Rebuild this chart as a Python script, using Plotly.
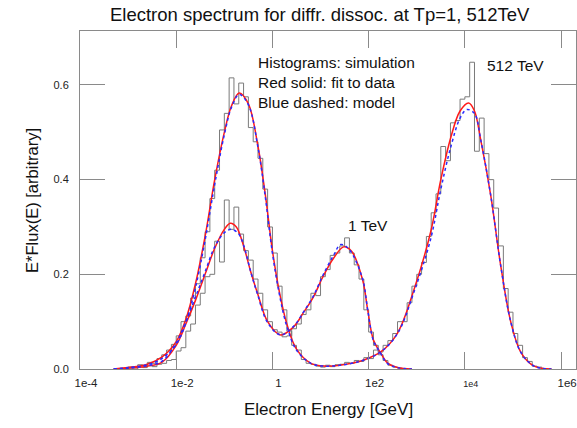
import numpy as np
import plotly.graph_objects as go

# ---- histogram binning (log10 of energy in GeV) ----
HIST_START = -3.1
HIST_STEP = 0.1

# simulated E*Flux(E), 1 TeV primary
hist_1tev = [0.0, 0.002, 0.0, 0.004, 0.003, 0.007, 0.005, 0.01, 0.012, 0.018,
             0.02, 0.038, 0.045, 0.08, 0.095, 0.135, 0.16, 0.195, 0.2, 0.27,
             0.226, 0.357, 0.295, 0.342, 0.285, 0.25, 0.23, 0.19, 0.16, 0.125,
             0.1, 0.083, 0.078, 0.068, 0.07, 0.085, 0.095, 0.115, 0.125, 0.16,
             0.155, 0.195, 0.21, 0.24, 0.245, 0.26, 0.277, 0.245, 0.22, 0.19,
             0.125, 0.078, 0.05, 0.03, 0.018, 0.008, 0.004, 0.002, 0.0]

# simulated E*Flux(E), 512 TeV primary
hist_512tev = [0.0, 0.004, 0.003, 0.009, 0.007, 0.014, 0.012, 0.022, 0.03, 0.04,
               0.052, 0.07, 0.1, 0.112, 0.15, 0.18, 0.235, 0.29, 0.36, 0.42,
               0.505, 0.54, 0.615, 0.56, 0.604, 0.575, 0.51, 0.48, 0.445, 0.38,
               0.3, 0.245, 0.175, 0.125, 0.08, 0.05, 0.04, 0.02, 0.012, 0.01,
               0.006, 0.004, 0.008, 0.005, 0.009, 0.01, 0.014, 0.012, 0.018, 0.016,
               0.024, 0.022, 0.04, 0.036, 0.05, 0.06, 0.075, 0.1, 0.1, 0.14,
               0.175, 0.2, 0.225, 0.28, 0.33, 0.37, 0.47, 0.44, 0.52, 0.525,
               0.57, 0.575, 0.648, 0.46, 0.53, 0.455, 0.4, 0.34, 0.26, 0.17,
               0.12, 0.075, 0.05, 0.024, 0.016, 0.006, 0.004, 0.001, 0.0]

# ---- fitted curves (red) ----
fit_1tev_loge = [-3.3, -3.0, -2.6, -2.3, -2.0, -1.8, -1.6, -1.4, -1.2, -1.0,
                 -0.875, -0.75, -0.6, -0.45, -0.31, -0.1, 0.17, 0.44, 0.65, 0.85,
                 1.05, 1.27, 1.48, 1.65, 1.875, 1.98, 2.1, 2.25, 2.39, 2.6, 2.9]
fit_1tev_val = [0.0, 0.002, 0.006, 0.014, 0.05, 0.095, 0.145, 0.2, 0.255, 0.295,
                0.308, 0.3, 0.26, 0.205, 0.16, 0.1, 0.072, 0.089, 0.12, 0.152,
                0.195, 0.234, 0.258, 0.248, 0.188, 0.125, 0.061, 0.034, 0.013, 0.003, 0.0]

fit_512tev_loge = [-3.3, -3.0, -2.6, -2.3, -2.0, -1.8, -1.6, -1.4, -1.2, -1.0,
                   -0.85, -0.69, -0.5, -0.3, -0.15, 0.0, 0.15, 0.3, 0.5, 0.8,
                   1.1, 1.4, 1.7, 1.9, 2.25, 2.6, 2.94, 3.29, 3.5, 3.71,
                   3.9, 4.08, 4.2, 4.33, 4.54, 4.75, 4.96, 5.17, 5.44, 5.8]
fit_512tev_val = [0.0, 0.003, 0.01, 0.025, 0.058, 0.105, 0.18, 0.28, 0.4, 0.5,
                  0.556, 0.583, 0.56, 0.47, 0.37, 0.25, 0.16, 0.095, 0.042, 0.012,
                  0.006, 0.008, 0.013, 0.019, 0.036, 0.076, 0.167, 0.29, 0.4, 0.49,
                  0.545, 0.562, 0.545, 0.484, 0.365, 0.215, 0.097, 0.034, 0.006, 0.0]

# ---- model curves (blue dashed) ----
model_1tev_loge = [-3.3, -3.0, -2.6, -2.3, -2.0, -1.8, -1.6, -1.4, -1.2, -1.0,
                   -0.85, -0.7, -0.6, -0.45, -0.31, -0.1, 0.17, 0.44, 0.65, 0.85,
                   1.05, 1.27, 1.42, 1.6, 1.875, 1.98, 2.1, 2.25, 2.39, 2.6, 2.9]
model_1tev_val = [0.0, 0.002, 0.007, 0.016, 0.055, 0.1, 0.152, 0.205, 0.258, 0.288,
                  0.295, 0.285, 0.262, 0.205, 0.158, 0.098, 0.072, 0.09, 0.121, 0.154,
                  0.198, 0.24, 0.263, 0.252, 0.19, 0.125, 0.06, 0.033, 0.012, 0.003, 0.0]

model_512tev_loge = [-3.3, -3.0, -2.6, -2.3, -2.0, -1.8, -1.6, -1.4, -1.2, -1.0,
                     -0.85, -0.69, -0.5, -0.3, -0.15, 0.0, 0.15, 0.3, 0.5, 0.8,
                     1.1, 1.4, 1.7, 1.9, 2.25, 2.6, 2.94, 3.29, 3.5, 3.71,
                     3.9, 4.04, 4.2, 4.33, 4.54, 4.75, 4.96, 5.17, 5.44, 5.8]
model_512tev_val = [0.0, 0.003, 0.009, 0.022, 0.052, 0.098, 0.172, 0.272, 0.39, 0.495,
                    0.553, 0.58, 0.558, 0.468, 0.365, 0.245, 0.155, 0.09, 0.04, 0.012,
                    0.006, 0.008, 0.013, 0.019, 0.036, 0.075, 0.162, 0.275, 0.38, 0.47,
                    0.53, 0.548, 0.54, 0.484, 0.365, 0.215, 0.097, 0.034, 0.006, 0.0]

# axis ticks
x_tickvals = [1e-4, 1e-2, 1, 1e2, 1e4, 1e6]
x_ticktext = ["1e-4", "1e-2", "1", "1e2", "<span style='font-size:9px'>1e4</span>", "1e6"]
y_tickvals = [0.0, 0.2, 0.4, 0.6]
y_ticktext = ["0.0", "0.2", "0.4", "0.6"]

FONT = "Liberation Sans, Arial, Helvetica, sans-serif"
AXIS_GREY = "#8a8a8a"


def step_xy(values):
    """Outline of a histogram with log10-spaced bins, closed to zero at both ends."""
    edges = HIST_START + HIST_STEP * np.arange(len(values) + 1)
    xs = np.concatenate([[edges[0]], edges])
    ys = np.concatenate([[0.0], values, [0.0]])
    return 10 ** xs, ys


fig = go.Figure()

for hist in (hist_1tev, hist_512tev):
    hx, hy = step_xy(hist)
    fig.add_trace(go.Scatter(x=hx, y=hy, mode="lines", line_shape="hv",
                             line=dict(color="#7a7a7a", width=1),
                             hoverinfo="skip", showlegend=False))

for lx, ly in ((fit_1tev_loge, fit_1tev_val), (fit_512tev_loge, fit_512tev_val)):
    fig.add_trace(go.Scatter(x=10 ** np.array(lx), y=ly, mode="lines",
                             line=dict(color="#ff1a1a", width=1.5, shape="spline", smoothing=1.0),
                             showlegend=False))

for lx, ly in ((model_1tev_loge, model_1tev_val), (model_512tev_loge, model_512tev_val)):
    fig.add_trace(go.Scatter(x=10 ** np.array(lx), y=ly, mode="lines",
                             line=dict(color="#2a2aff", width=1.5, dash="3px,3px",
                                       shape="spline", smoothing=1.0),
                             showlegend=False))

notes = [
    ("Histograms: simulation", -0.333, 0.648, 15.5),
    ("Red solid: fit to data", -0.333, 0.606, 15.5),
    ("Blue dashed: model", -0.333, 0.564, 15.5),
    ("512 TeV", 4.417, 0.642, 15.5),
    ("1 TeV", 1.52, 0.304, 15.5),
]
annotations = [dict(text=t, x=xv, y=yv, xref="x", yref="y", showarrow=False,
                    xanchor="left", yanchor="middle",
                    font=dict(family=FONT, size=fs, color="#111"))
               for t, xv, yv, fs in notes]

annotations += [
    dict(text="Electron Energy [GeV]", x=0.5, y=-0.121, xref="paper", yref="paper",
         showarrow=False, xanchor="center", yanchor="middle",
         font=dict(family=FONT, size=17, color="#111")),
    dict(text="E*Flux(E) [arbitrary]", x=-0.097, y=0.5, xref="paper", yref="paper",
         showarrow=False, xanchor="center", yanchor="middle", textangle=-90,
         font=dict(family=FONT, size=16.5, color="#111")),
]

fig.update_layout(
    width=577, height=428,
    margin=dict(l=80, r=1, t=31, b=59),
    paper_bgcolor="white", plot_bgcolor="white",
    title=dict(text="Electron spectrum for diffr. dissoc. at Tp=1, 512TeV",
               x=0.554, xref="container", xanchor="center",
               y=1 - 15 / 428, yref="container", yanchor="middle",
               font=dict(family=FONT, size=18.5, color="#111")),
    annotations=annotations,
    xaxis=dict(type="log", range=[-4, 6.31], tickvals=x_tickvals, ticktext=x_ticktext,
               ticks="inside", ticklen=17, tickcolor=AXIS_GREY, tickwidth=1,
               showline=True, linecolor=AXIS_GREY, linewidth=1, mirror="ticks",
               showgrid=False, zeroline=False, ticklabelshift=6, ticklabelstandoff=3,
               tickfont=dict(family=FONT, size=11.5, color="#222")),
    yaxis=dict(range=[0, 0.714], tickvals=y_tickvals, ticktext=y_ticktext,
               ticks="inside", ticklen=25, tickcolor=AXIS_GREY, tickwidth=1,
               showline=True, linecolor=AXIS_GREY, linewidth=1, mirror="ticks",
               showgrid=False, zeroline=False, ticklabelstandoff=8,
               tickfont=dict(family=FONT, size=11, color="#222")),
)

fig.write_html("out.html")
